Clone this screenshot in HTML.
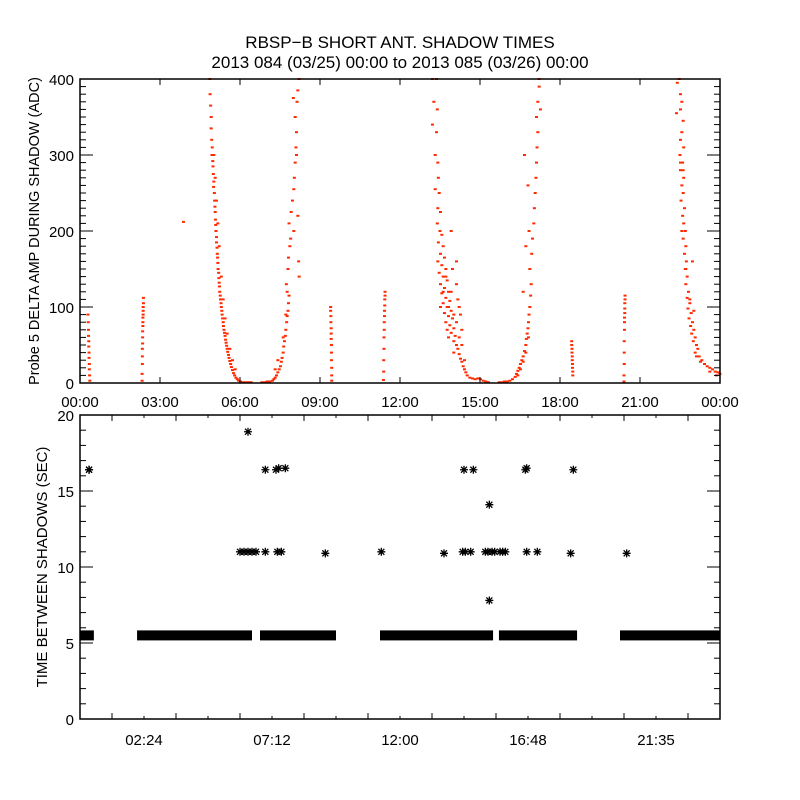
<!DOCTYPE html>
<html><head><meta charset="utf-8">
<style>
html,body{margin:0;padding:0;background:#fff;}
svg{display:block;font-family:"Liberation Sans",sans-serif;}
</style></head>
<body>
<svg id="chart" width="800" height="800" viewBox="0 0 800 800">
<rect x="0" y="0" width="800" height="800" fill="#fff"/>
<text x="400" y="48" text-anchor="middle" font-size="17">RBSP−B SHORT ANT. SHADOW TIMES</text>
<text x="400" y="68" text-anchor="middle" font-size="17">2013 084 (03/25) 00:00 to 2013 085 (03/26) 00:00</text>
<g id="topPanel"></g>
<g id="botPanel"></g>
</svg>
<script>
// ---- top panel data: [hour, ADC] ----
const streakA=[[0.28,90],[0.29,80],[0.3,70],[0.3,62],[0.31,55],[0.31,48],[0.32,40],[0.32,33],[0.33,25],[0.33,18],[0.34,10],[0.35,3]];
const streakB=[[2.36,112],[2.36,105],[2.35,100],[2.35,95],[2.35,90],[2.34,86],[2.34,80],[2.34,75],[2.33,68],[2.33,60],[2.33,52],[2.32,45],[2.32,35],[2.32,25],[2.31,12],[2.31,3],[3.86,212]];
const streakC=[[9.38,100],[9.38,95],[9.39,88],[9.39,80],[9.4,72],[9.4,65],[9.4,58],[9.41,50],[9.41,40],[9.41,30],[9.42,20],[9.42,10],[9.42,3]];
const streakD=[[11.42,120],[11.42,115],[11.41,110],[11.41,102],[11.4,95],[11.4,88],[11.39,80],[11.39,70],[11.38,60],[11.38,45],[11.37,30],[11.37,15],[11.36,4]];
const streakE=[[18.42,55],[18.42,50],[18.43,45],[18.43,40],[18.44,35],[18.44,30],[18.45,25],[18.45,20],[18.46,15],[18.46,10]];
const streakF=[[20.42,115],[20.42,110],[20.41,105],[20.41,98],[20.41,92],[20.4,86],[20.4,80],[20.4,70],[20.39,55],[20.39,40],[20.39,25],[20.38,10],[20.38,2]];
const u1Left=[[4.85,400],[4.86,380],[4.88,365],[4.9,350],[4.9,335],[4.92,320],[4.94,310],[4.93,300],[4.96,292],[4.97,285],[4.98,275],[5.0,265],[4.99,258],[5.02,250],[5.03,240],[5.04,232],[5.05,225],[5.06,215],[5.07,208],[5.08,200],[5.1,192],[5.1,185],[5.12,178],[5.13,170],[5.14,165],[5.15,158],[5.16,150],[5.18,145],[5.19,138],[5.2,132],[5.21,127],[5.22,120],[5.24,115],[5.25,110],[5.27,105],[5.28,100],[5.3,95],[5.31,90],[5.33,85],[5.35,80],[5.36,75],[5.38,70],[5.4,66],[5.42,62],[5.44,57],[5.46,53],[5.48,49],[5.5,45],[5.52,41],[5.55,37],[5.57,33],[5.6,29],[5.63,25],[5.66,21],[5.7,17],[5.74,13],[5.78,10],[5.83,7],[5.88,5],[5.93,3],[6.0,2],[6.1,1],[6.2,1],[6.3,1],[6.4,1],[5.0,300],[5.05,270],[5.1,240],[5.15,210],[5.2,180],[5.28,140],[5.35,110],[5.42,85],[5.5,65],[5.6,45],[5.7,30],[5.8,18]];
const u1Right=[[6.8,1],[6.9,1],[7.0,2],[7.1,2],[7.2,3],[7.25,5],[7.3,7],[7.35,10],[7.4,14],[7.45,18],[7.5,22],[7.53,28],[7.56,33],[7.6,40],[7.62,48],[7.65,55],[7.68,62],[7.7,70],[7.73,80],[7.75,88],[7.78,95],[7.8,105],[7.82,115],[7.72,130],[7.78,150],[7.8,165],[7.85,180],[7.88,190],[7.82,210],[7.9,225],[7.95,240],[8.0,255],[8.02,270],[8.05,290],[8.08,310],[8.1,330],[8.05,350],[8.12,370],[8.15,385],[8.2,400],[8.0,200],[8.15,220],[8.18,160],[8.2,140],[8.1,300],[7.98,375],[7.6,60],[7.7,90],[7.75,120],[7.4,30],[7.3,18]];
const u2Left=[[13.2,400],[13.35,400],[13.25,370],[13.38,360],[13.2,340],[13.35,330],[13.3,300],[13.4,290],[13.42,270],[13.3,255],[13.45,250],[13.4,230],[13.5,225],[13.38,210],[13.48,200],[13.55,195],[13.42,185],[13.6,180],[13.5,170],[13.65,165],[13.4,160],[13.55,155],[13.7,150],[13.45,145],[13.6,140],[13.75,135],[13.5,130],[13.65,125],[13.8,120],[13.55,118],[13.7,112],[13.85,108],[13.6,105],[13.75,100],[13.9,95],[13.65,92],[13.8,88],[13.95,85],[13.7,80],[13.85,76],[14.0,72],[13.75,70],[13.9,66],[14.05,62],[13.8,60],[14.0,55],[14.1,50],[14.15,45],[14.0,40],[14.2,38],[14.25,32],[14.3,28],[14.35,22],[14.4,18],[14.45,14],[14.5,10],[14.6,7],[14.7,6],[14.8,5],[14.9,6],[15.0,5],[15.1,3],[15.2,2],[15.3,1],[14.2,100],[14.1,130],[14.3,70],[14.25,90],[13.95,150],[14.1,160],[13.9,200],[14.15,110],[13.5,100],[13.6,120],[13.7,140],[13.8,100],[13.9,120],[14.0,90],[14.1,80],[14.2,60],[14.3,50],[14.4,30]];
const u2Right=[[15.7,1],[15.8,1],[15.9,2],[16.0,2],[16.1,3],[16.2,5],[16.3,8],[16.35,12],[16.4,16],[16.45,20],[16.5,25],[16.55,30],[16.6,35],[16.65,42],[16.7,50],[16.72,58],[16.75,65],[16.78,72],[16.8,80],[16.82,90],[16.85,100],[16.88,115],[16.9,130],[16.85,150],[16.92,170],[16.95,190],[17.0,210],[17.02,230],[17.05,250],[17.08,270],[17.1,290],[17.12,310],[17.15,330],[17.1,350],[17.15,370],[17.2,390],[17.2,400],[16.6,120],[16.7,180],[16.65,300],[16.78,260],[16.82,200],[17.25,360],[16.4,10],[16.5,18],[16.6,28],[16.7,40],[16.8,60]];
const u3=[[22.45,400],[22.38,395],[22.5,380],[22.55,370],[22.5,360],[22.35,355],[22.6,345],[22.55,330],[22.5,320],[22.62,310],[22.48,300],[22.58,290],[22.5,280],[22.62,270],[22.55,260],[22.6,250],[22.52,240],[22.65,230],[22.58,220],[22.62,210],[22.68,200],[22.6,190],[22.7,180],[22.65,170],[22.72,160],[22.68,150],[22.75,140],[22.7,130],[22.8,120],[22.75,112],[22.85,105],[22.78,98],[22.9,92],[22.82,85],[22.95,80],[22.88,75],[23.0,70],[22.92,65],[23.05,60],[22.98,55],[23.1,50],[23.15,45],[23.05,40],[23.2,35],[23.3,30],[23.4,25],[23.5,22],[23.6,20],[23.7,18],[23.8,15],[23.9,14],[23.98,12],[22.95,160],[22.85,110],[23.0,95],[22.5,290],[22.6,280],[22.55,200],[22.7,150],[23.1,35],[23.25,28],[23.6,15],[23.85,10]];
const topXTicks=["00:00","03:00","06:00","09:00","12:00","15:00","18:00","21:00","00:00"];
const topYTicks=[0,100,200,300,400];
// ---- bottom panel data ----
const bandStart=[0.0,2.14,6.75,11.25,15.71,20.25];
const bandEnd=[0.52,6.45,9.6,15.49,18.64,24.0];
const bandValue=[5.5,5.5,5.5,5.5,5.5,5.5];
const starH=[0.34,6.0,6.15,6.3,6.45,6.6,6.95,7.4,7.55,9.2,11.3,13.65,14.35,14.45,14.65,15.2,15.3,15.45,15.55,15.75,15.85,15.95,16.75,17.15,18.4,20.5,0.34,6.95,7.35,7.45,7.7,14.4,14.75,16.7,16.75,18.5,6.3,15.35,15.35];
const starV=[16.4,11,11,11,11,11,11,11,11,10.9,11,10.9,11,11,11,11,11,11,11,11,11,11,11,11,10.9,10.9,16.4,16.4,16.4,16.5,16.5,16.4,16.4,16.4,16.5,16.4,18.9,14.1,7.8];
const botXTicks=["02:24","07:12","12:00","16:48","21:35"];
const botYTicks=[0,5,10,15,20];

const NS="http://www.w3.org/2000/svg";
function mk(parent,tag,attrs){const e=document.createElementNS(NS,tag);for(const k in attrs)e.setAttribute(k,attrs[k]);parent.appendChild(e);return e;}
const L=80,R=720;
const xs=h=>L+(h/24)*(R-L);
// top
const T0=79,T1=383;
const yT=v=>T1-(v/400)*(T1-T0);
const topG=document.getElementById('topPanel');
const pts=mk(topG,'g',{});


[streakA,streakB,streakC,streakD,streakE,streakF,u1Left,u1Right,u2Left,u2Right,u3].forEach(arr=>{
  arr.forEach(p=>{
    const r=mk(pts,'rect',{x:xs(p[0])-1,y:yT(p[1])-1,width:3,height:2,fill:'#ff2a00'});
    
    
  });
});
const tf=mk(topG,'rect',{x:L,y:T0,width:R-L,height:T1-T0,fill:'none',stroke:'#000','stroke-width':1.5});


topXTicks.forEach((t,i)=>{
  const x=L+i*(R-L)/8;
  mk(topG,'line',{x1:x,x2:x,y1:T1,y2:T1-6,stroke:'#000'});
  mk(topG,'line',{x1:x,x2:x,y1:T0,y2:T0+6,stroke:'#000'});
  const tx=mk(topG,'text',{x:x,y:T1+24,'text-anchor':'middle','font-size':15});
  tx.textContent=t;
  
  
});
for(let v=0;v<=400;v+=10){
  const y=yT(v),len=(v%100===0)?13:6;
  mk(topG,'line',{x1:L,x2:L+len,y1:y,y2:y,stroke:'#000'});
  mk(topG,'line',{x1:R,x2:R-len,y1:y,y2:y,stroke:'#000'});
}
topYTicks.forEach(v=>{
  const tx=mk(topG,'text',{x:L-6,y:yT(v)+6,'text-anchor':'end','font-size':15});
  tx.textContent=v;
  
  
});
const ty=mk(topG,'text',{x:0,y:0,'text-anchor':'middle','font-size':14.5,transform:'translate(39,231) rotate(-90)'});
ty.textContent='Probe 5 DELTA AMP DURING SHADOW (ADC)';


// bottom
const B0=415,B1=719;
const yB=v=>B1-(v/20)*(B1-B0);
const botG=document.getElementById('botPanel');
bandStart.forEach((s,i)=>{
  const r=mk(botG,'rect',{x:xs(s),y:yB(bandValue[i])-5,width:xs(bandEnd[i])-xs(s),height:10,fill:'#000'});
  
  
});
const STAR='M-4,0H4M0,-4V4M-3,-3L3,3M-3,3L3,-3';
starH.forEach((h,i)=>{
  const s=mk(botG,'path',{d:STAR,transform:'translate('+xs(h)+','+yB(starV[i])+')',stroke:'#000','stroke-width':1.3,fill:'none'});
  
  
});
const bf=mk(botG,'rect',{x:L,y:B0,width:R-L,height:B1-B0,fill:'none',stroke:'#000','stroke-width':1.5});


for(let i=0;i<=20;i++){
  const x=L+i*(R-L)/20,len=(i%2===1)?6:3;
  mk(botG,'line',{x1:x,x2:x,y1:B1,y2:B1-len,stroke:'#000'});
  mk(botG,'line',{x1:x,x2:x,y1:B0,y2:B0+len,stroke:'#000'});
}
botXTicks.forEach((t,i)=>{
  const x=L+(2*i+1)*(R-L)/10;
  const tx=mk(botG,'text',{x:x,y:B1+26,'text-anchor':'middle','font-size':15});
  tx.textContent=t;
  
  
});
for(let v=0;v<=20;v++){
  const y=yB(v),len=(v%5===0)?13:6;
  mk(botG,'line',{x1:L,x2:L+len,y1:y,y2:y,stroke:'#000'});
  mk(botG,'line',{x1:R,x2:R-len,y1:y,y2:y,stroke:'#000'});
}
botYTicks.forEach(v=>{
  const tx=mk(botG,'text',{x:L-6,y:yB(v)+6,'text-anchor':'end','font-size':15});
  tx.textContent=v;
  
  
});
const by=mk(botG,'text',{x:0,y:0,'text-anchor':'middle','font-size':15,transform:'translate(47,567) rotate(-90)'});
by.textContent='TIME BETWEEN SHADOWS (SEC)';


</script>
</body></html>
